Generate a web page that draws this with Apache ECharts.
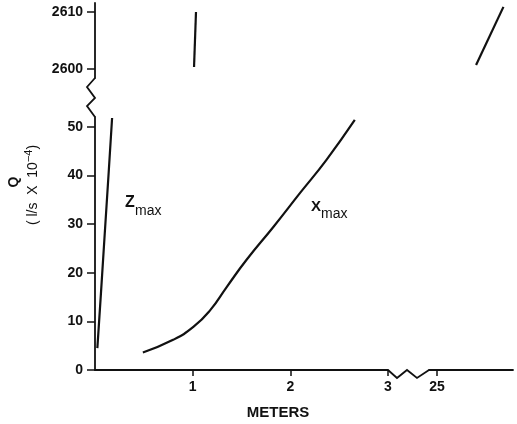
<!DOCTYPE html>
<html>
<head>
<meta charset="utf-8">
<script src="https://cdn.jsdelivr.net/npm/echarts@6/dist/echarts.min.js"></script>
<style>
  html, body { margin: 0; padding: 0; background: #fff; }
  #chart { width: 517px; height: 424px; }
</style>
</head>
<body>
<div id="chart"></div>
<script>
// Q (l/s x 10^-4) against distance in meters
const zmaxX = [0.024, 0.06, 0.10, 0.14, 0.175];
const zmaxQ = [4.5, 15.5, 28.1, 40.6, 51.8];
const xmaxX = [0.49, 0.80, 1.01, 1.18, 1.35, 1.55, 1.83, 2.10, 2.37, 2.66];
const xmaxQ = [3.6, 6.2, 8.9, 12.3, 17.1, 22.6, 29.5, 36.4, 43.2, 51.4];
// upper (broken) part of the Q axis
const upLeftX = [1.014, 1.034];
const upLeftQ = [2600.35, 2610];
const upRightX = [25.40, 25.68];
const upRightQ = [2600.7, 2610.9];

const lowTicks = [0, 10, 20, 30, 40, 50];
const highTicks = [2600, 2610];
const leftXTicks = [1, 2, 3];
const rightXTicks = [25];

const ink = '#111';
const font = 'Liberation Sans';

const pairs = (xs, ys) => xs.map((x, i) => [x, ys[i]]);

const myChart = echarts.init(document.getElementById('chart'));

const axisLine = { show: true, onZero: false, lineStyle: { color: ink, width: 1.8 } };
const tickLabel = { color: ink, fontFamily: font, fontWeight: 'bold', fontSize: 14, formatter: v => String(v) };

let option = {
    animation: false,
    backgroundColor: '#fff',
    grid: [
        { left: 95, top: 117, width: 293, height: 253, outerBoundsMode: 'none' },
        { left: 429, top: 117, width: 84, height: 253, outerBoundsMode: 'none' },
        { left: 95, top: 3, width: 293, height: 75, outerBoundsMode: 'none' },
        { left: 429, top: 3, width: 84, height: 75, outerBoundsMode: 'none' }
    ],
    xAxis: [
        {
            gridIndex: 0, type: 'value', min: 0, max: 3,
            axisLine: axisLine,
            axisTick: { show: true, length: 6, customValues: leftXTicks, lineStyle: { color: ink, width: 1.5 } },
            axisLabel: Object.assign({ margin: 10, customValues: leftXTicks }, tickLabel),
            splitLine: { show: false }
        },
        {
            gridIndex: 1, type: 'value', min: 24.918, max: 25.778,
            axisLine: axisLine,
            axisTick: { show: true, length: 6, customValues: rightXTicks, lineStyle: { color: ink, width: 1.5 } },
            axisLabel: Object.assign({ margin: 10, customValues: rightXTicks }, tickLabel),
            splitLine: { show: false }
        },
        { gridIndex: 2, type: 'value', min: 0, max: 3, show: false },
        { gridIndex: 3, type: 'value', min: 24.918, max: 25.778, show: false }
    ],
    yAxis: [
        {
            gridIndex: 0, type: 'value', min: 0, max: 52,
            axisLine: axisLine,
            axisTick: { show: true, length: 8, customValues: lowTicks, lineStyle: { color: ink, width: 1.5 } },
            axisLabel: Object.assign({ margin: 12, customValues: lowTicks }, tickLabel),
            splitLine: { show: false }
        },
        { gridIndex: 1, type: 'value', min: 0, max: 52, show: false },
        {
            gridIndex: 2, type: 'value', min: 2598.42, max: 2611.58,
            axisLine: axisLine,
            axisTick: { show: true, length: 8, customValues: highTicks, lineStyle: { color: ink, width: 1.5 } },
            axisLabel: Object.assign({ margin: 12, customValues: highTicks }, tickLabel),
            splitLine: { show: false }
        },
        { gridIndex: 3, type: 'value', min: 2598.42, max: 2611.58, show: false }
    ],
    series: [
        {
            name: 'Zmax', type: 'line', xAxisIndex: 0, yAxisIndex: 0,
            data: pairs(zmaxX, zmaxQ), showSymbol: false, symbol: 'none',
            lineStyle: { color: ink, width: 2.2 }
        },
        {
            name: 'Xmax', type: 'line', xAxisIndex: 0, yAxisIndex: 0, smooth: 0.5,
            data: pairs(xmaxX, xmaxQ), showSymbol: false, symbol: 'none',
            lineStyle: { color: ink, width: 2.2 }
        },
        {
            name: 'upper left', type: 'line', xAxisIndex: 2, yAxisIndex: 2,
            data: pairs(upLeftX, upLeftQ), showSymbol: false, symbol: 'none',
            lineStyle: { color: ink, width: 2.2 }
        },
        {
            name: 'upper right', type: 'line', xAxisIndex: 3, yAxisIndex: 3,
            data: pairs(upRightX, upRightQ), showSymbol: false, symbol: 'none',
            lineStyle: { color: ink, width: 2.2 }
        }
    ],
    graphic: [
        // axis breaks
        { type: 'polyline', shape: { points: [[95, 78], [87, 87], [95, 98], [87, 106], [95, 117]] },
          style: { stroke: ink, lineWidth: 1.8, fill: null } },
        { type: 'polyline', shape: { points: [[388, 370], [397, 378], [407, 370], [417, 378], [429, 370]] },
          style: { stroke: ink, lineWidth: 1.8, fill: null } },
        // axis titles
        { type: 'text', x: 14, y: 182, rotation: Math.PI / 2,
          style: { text: 'Q', font: 'bold 14px "Liberation Sans"', fill: ink, textAlign: 'center', textVerticalAlign: 'middle' } },
        { type: 'text', x: 33, y: 185, rotation: Math.PI / 2,
          style: { text: '( l/s  X  10{s|−4})', font: '14px "Liberation Sans"', fill: ink, textAlign: 'center', textVerticalAlign: 'middle',
                   rich: { s: { fontSize: 11, fontFamily: font, fill: ink, padding: [0, 0, 8, 0] } } } },
        { type: 'text', x: 278, y: 413,
          style: { text: 'METERS', font: 'bold 15px "Liberation Sans"', fill: ink, textAlign: 'center', textVerticalAlign: 'middle' } },
        // curve labels
        { type: 'text', x: 125, y: 203,
          style: { text: 'Z', font: 'bold 16px "Liberation Sans"', fill: ink, textAlign: 'left', textVerticalAlign: 'middle' } },
        { type: 'text', x: 135, y: 211,
          style: { text: 'max', font: '14px "Liberation Sans"', fill: ink, textAlign: 'left', textVerticalAlign: 'middle' } },
        { type: 'text', x: 311, y: 207,
          style: { text: 'X', font: 'bold 15px "Liberation Sans"', fill: ink, textAlign: 'left', textVerticalAlign: 'middle' } },
        { type: 'text', x: 321, y: 214,
          style: { text: 'max', font: '14px "Liberation Sans"', fill: ink, textAlign: 'left', textVerticalAlign: 'middle' } }
    ]
};
myChart.setOption(option);
</script>
</body>
</html>
